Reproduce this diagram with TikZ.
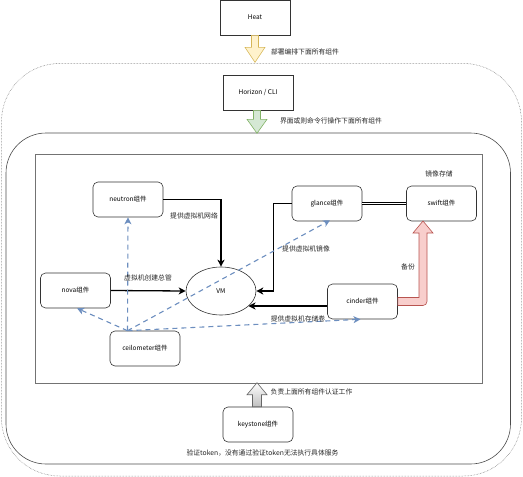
\documentclass[tikz,border=0pt]{standalone}
\usepackage{fontspec}
\setmainfont{Noto Sans CJK SC}
\usetikzlibrary{arrows.meta,shapes.geometric}
\definecolor{boxline}{HTML}{333333}
\definecolor{dashblue}{HTML}{6C8EBF}
\definecolor{yfill}{HTML}{FFF2CC}
\definecolor{yline}{HTML}{D6B656}
\definecolor{gfill}{HTML}{D5E8D4}
\definecolor{gline}{HTML}{82B366}
\definecolor{rfill}{HTML}{F8CECC}
\definecolor{rline}{HTML}{B85450}
\definecolor{kline}{HTML}{666666}
\tikzset{
  sqbox/.style={draw=boxline, line width=0.6pt, rectangle, minimum width=70pt, minimum height=35pt, inner sep=1pt, font=\fontsize{6.5}{8}\selectfont},
  rbox/.style={sqbox, rounded corners=5pt},
  lbl/.style={inner sep=0pt, font=\fontsize{6.8}{8}\selectfont, text=black!85},
  solidarrow/.style={draw=black, line width=1.3pt, -{Stealth[length=7pt,width=7pt,inset=2pt]}},
  dasharrow/.style={draw=dashblue, line width=1.1pt, dash pattern=on 5pt off 4pt, -{Stealth[length=7pt,width=7pt,inset=2pt]}},
  blockarrow/.style={line width=0.6pt, line join=miter},
}
\begin{document}
\begin{tikzpicture}[x=1pt,y=-1pt]
\useasboundingbox (0,0) rectangle (523,477);
% containers
\draw[draw=black!60, line width=0.5pt, densely dotted, rounded corners=58pt] (1.5,63.5) rectangle (521.5,476);
\draw[draw=black!70, line width=0.6pt, rounded corners=40pt] (6,133) rectangle (510.5,464);
\draw[draw=black!55, line width=0.7pt] (35,154) rectangle (482,383);

% nodes
\node[sqbox] (heat) at (255,17.5) {Heat};
\node[sqbox] (horizon) at (258,92.5) {Horizon / CLI};
\node[rbox] (keystone) at (258,424.5) {keystone组件};
\node[rbox] (neutron) at (128,199.5) {neutron组件};
\node[rbox] (nova) at (75.5,290.5) {nova组件};
\node[rbox] (ceil) at (145,348.5) {ceilometer组件};
\node[rbox] (glance) at (327,203.5) {glance组件};
\node[rbox] (swift) at (441.5,203.5) {swift组件};
\node[rbox] (cinder) at (362.5,301.5) {cinder组件};
\node[draw=black!80, line width=0.6pt, ellipse, minimum width=70pt, minimum height=48pt, inner sep=0pt, font=\fontsize{6.5}{8}\selectfont] (vm) at (221,291) {VM};

% block arrows
\draw[blockarrow, draw=yline, fill=yfill] ([xshift=-3.5pt]heat.south) -- ++(0,12) -- ++(-6.5,0) -- ++(10,15) -- ++(10,-15) -- ++(-6.5,0) -- ++(0,-12) -- cycle;
\draw[blockarrow, draw=gline, fill=gfill] ([xshift=-4.5pt]horizon.south) -- ++(0,9) -- ++(-6.5,0) -- ++(10,14) -- ++(10,-14) -- ++(-6.5,0) -- ++(0,-9) -- cycle;
\draw[blockarrow, draw=kline, top color=white, bottom color=black!25] ([xshift=-5.5pt]keystone.north) -- ++(0,-12) -- ++(-5.5,0) -- ++(10,-12) -- ++(10,12) -- ++(-5.5,0) -- ++(0,12) -- cycle;
\draw[blockarrow, draw=rline, fill=rfill] ([yshift=4pt]cinder.east) -- (419,297.5) -- (419,233) -- (413,233) -- (423,221) -- (433,233) -- (427,233) [rounded corners=4pt] -- (427,305.5) [sharp corners] -- ([yshift=-4pt]cinder.east) -- cycle;

% solid connectors
\draw[solidarrow] (neutron.east) -| (vm.north);
\draw[solidarrow] (nova.east) -- (vm.west);
\draw[solidarrow] (glance.west) -- ++(-18,0) |- (vm.east);
\coordinate (cw) at ([yshift=-4.5pt]cinder.west);
\draw[solidarrow] (cw) -- (cw -| vm.-29);
\draw[line width=0.7pt, double=white, double distance=1.4pt] (glance.east) -- (swift.west);

% dashed connectors from ceilometer
\coordinate (cs) at ([xshift=-17.5pt]ceil.north);
\draw[dasharrow] (cs) -- (neutron.south);
\draw[dasharrow] (cs) -- ([xshift=1.5pt]nova.south);
\draw[dasharrow] (cs) -- ([xshift=3pt,yshift=1pt]glance.south);
\draw[dasharrow] (cs) -- ([xshift=-2pt]cinder.south);

% labels
\node[lbl] (l1) at (305,52) {部署编排下面所有组件};
\node[lbl] (l2) at (331,121) {界面或则命令行操作下面所有组件};
\node[lbl] (l3) at (311.5,392) {负责上面所有组件认证工作};
\node[lbl] (l4) at (262.5,453) {验证token，没有通过验证token无法执行具体服务};
\node[lbl, anchor=west] (l5) at (170,216) {提供虚拟机网络};
\node[lbl] (l6) at (148,278) {虚拟机创建总管};
\node[lbl] (l7) at (306,249) {提供虚拟机镜像};
\node[lbl] (l8) at (298,319) {提供虚拟机存储卷};
\node[lbl] (l9) at (408,267) {备份};
\node[lbl] (l10) at (439,174) {镜像存储};
\end{tikzpicture}
\end{document}
